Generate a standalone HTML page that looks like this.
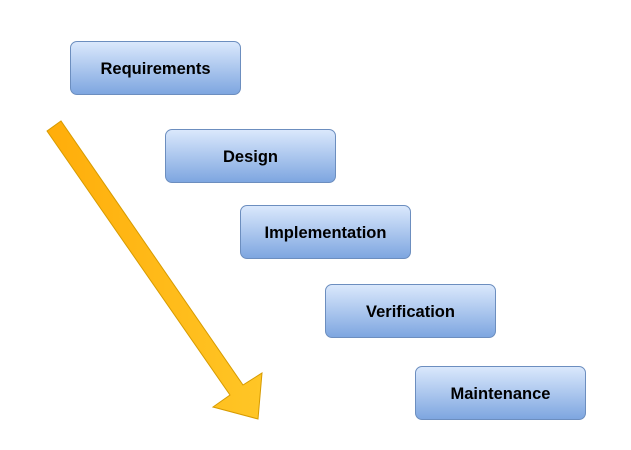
<!DOCTYPE html>
<html><head><style>
body{margin:0;width:631px;height:450px;background:#fff;position:relative;overflow:hidden;font-family:"Liberation Sans",sans-serif}
.b{position:absolute;width:171px;height:54px;box-sizing:border-box;padding-top:2px;border:1px solid #6c8ebf;border-radius:7px;background:linear-gradient(#dae8fc,#7ea6e0);display:flex;align-items:center;justify-content:center;font-weight:bold;font-size:16.5px;color:#000}
svg{position:absolute;left:0;top:0}
</style></head><body>
<svg width="631" height="450"><defs><linearGradient id="g" x1="0" y1="0" x2="1" y2="0"><stop offset="0" stop-color="#ffad0a"/><stop offset="1" stop-color="#ffc626"/></linearGradient></defs>
<polygon points="47,131 61,121 243,385 262,373 258,419 213,407 230,395" fill="url(#g)" stroke="#d79b00" stroke-width="1"/></svg>
<div class="b" style="left:70px;top:41px">Requirements</div>
<div class="b" style="left:165px;top:129px">Design</div>
<div class="b" style="left:240px;top:205px">Implementation</div>
<div class="b" style="left:325px;top:284px">Verification</div>
<div class="b" style="left:415px;top:366px">Maintenance</div>
</body></html>
